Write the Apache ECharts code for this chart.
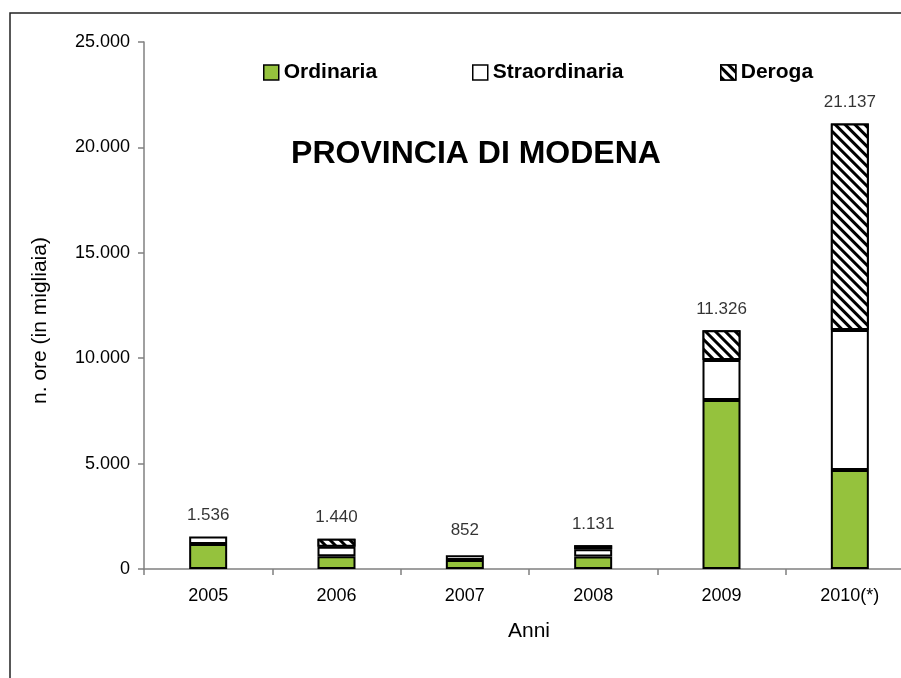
<!DOCTYPE html>
<html>
<head>
<meta charset="utf-8">
<script src="https://cdn.jsdelivr.net/npm/echarts@6/dist/echarts.min.js"></script>
<style>
html,body{margin:0;padding:0;background:#fff;overflow:hidden;}
#chart{width:915px;height:678px;}
</style>
</head>
<body>
<div id="chart"></div>
<script>
var categories = ['2005', '2006', '2007', '2008', '2009', '2010(*)'];
var ordinaria = [1190, 600, 430, 590, 8020, 4700];
var straordinaria = [346, 460, 220, 345, 1890, 6640];
var deroga = [0, 380, 0, 196, 1416, 9797];
var totali = [1536, 1440, 852, 1131, 11326, 21137];
var yTicks = [0, 5000, 10000, 15000, 20000, 25000];

function fmt(v) {
  return String(v).replace(/\B(?=(\d{3})+(?!\d))/g, '.');
}
function nz(arr) { return arr.map(function (v) { return v === 0 ? null : v; }); }

var FONT = '"Liberation Sans", Arial, sans-serif';
var GREEN = '#95c23d';
var hatch = {
  symbol: 'rect', symbolSize: 1,
  dashArrayX: [1, 0], dashArrayY: [2.2, 3.4],
  rotation: Math.PI / 4,
  color: '#000', backgroundColor: '#fff'
};

var chart = echarts.init(document.getElementById('chart'));
var legendBase = {
  orient: 'horizontal', top: 57, itemWidth: 15, itemHeight: 15, icon: 'rect',
  textStyle: { fontFamily: FONT, fontSize: 21, fontWeight: 'bold', color: '#000' },
  itemStyle: { borderColor: '#000', borderWidth: 1.5 },
  selectedMode: false
};
chart.setOption({
  animation: false,
  textStyle: { fontFamily: FONT },
  graphic: [
    { type: 'rect', shape: { x: 10, y: 13, width: 1200, height: 1200 }, style: { fill: 'none', stroke: '#222', lineWidth: 1.5 }, silent: true, z: -10 },
    { type: 'text', x: 476, y: 154, style: { text: 'PROVINCIA DI MODENA', font: 'bold 32px ' + FONT, fill: '#000', textAlign: 'center', textVerticalAlign: 'middle' } }
  ],
  legend: [
    Object.assign({}, legendBase, { left: 258, data: ['Ordinaria'] }),
    Object.assign({}, legendBase, { left: 467, data: ['Straordinaria'] }),
    Object.assign({}, legendBase, { left: 715, data: ['Deroga'] })
  ],
  grid: { left: 144, top: 42, width: 770, height: 527 },
  xAxis: {
    type: 'category', data: categories,
    axisLine: { lineStyle: { color: '#808080', width: 1.5 } },
    axisTick: { show: true, length: 6, lineStyle: { color: '#808080', width: 1.5 } },
    axisLabel: { fontSize: 18, color: '#000', margin: 18 },
    name: 'Anni', nameLocation: 'middle', nameGap: 52,
    nameTextStyle: { fontSize: 21, color: '#000' }
  },
  yAxis: {
    type: 'value', min: 0, max: 25000, interval: 5000,
    axisLine: { show: true, lineStyle: { color: '#808080', width: 1.5 } },
    axisTick: { show: true, length: 6, lineStyle: { color: '#808080', width: 1.5 } },
    splitLine: { show: false },
    axisLabel: { fontSize: 18, color: '#000', margin: 14, formatter: function (v) { return fmt(v); } },
    name: 'n. ore (in migliaia)', nameLocation: 'middle', nameGap: 93,
    nameTextStyle: { fontSize: 21, color: '#000', padding: [0, 30, 0, 0] }
  },
  series: [
    { name: 'Ordinaria', type: 'bar', stack: 'a', barWidth: 38, data: nz(ordinaria),
      itemStyle: { color: GREEN, borderColor: '#000', borderWidth: 2 } },
    { name: 'Straordinaria', type: 'bar', stack: 'a', barWidth: 38, data: nz(straordinaria),
      itemStyle: { color: '#fff', borderColor: '#000', borderWidth: 2 } },
    { name: 'Deroga', type: 'bar', stack: 'a', barWidth: 38, data: nz(deroga),
      itemStyle: { color: '#fff', borderColor: '#000', borderWidth: 2, decal: hatch } },
    { name: 'Totale', type: 'scatter', data: totali, symbolSize: 1,
      itemStyle: { color: 'rgba(0,0,0,0)' }, silent: true,
      label: { show: true, position: 'top', distance: 12, fontSize: 17, color: '#000',
        formatter: function (p) { return fmt(p.value); } } }
  ]
});
</script>
</body>
</html>
